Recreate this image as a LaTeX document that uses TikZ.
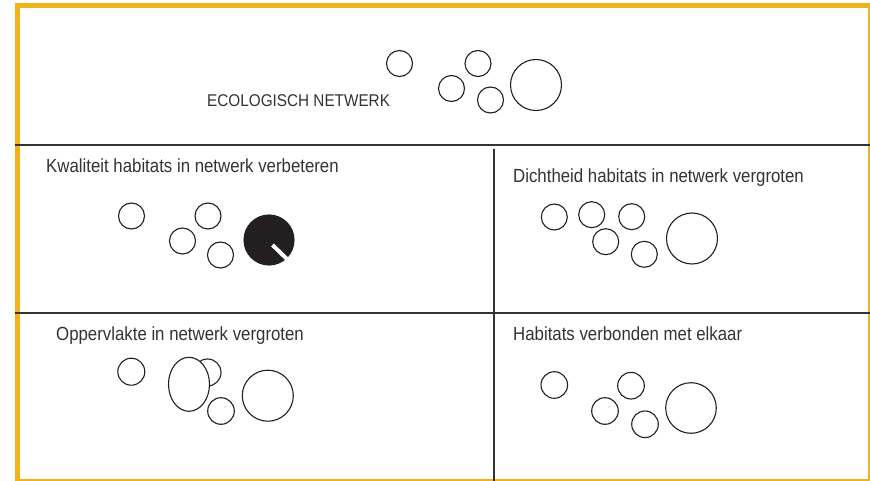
\documentclass[tikz,border=0pt]{standalone}
\usepackage{fontspec}
\setmainfont{Liberation Sans}[FakeStretch=0.885]
\newfontfamily\titelfont{Liberation Sans}[FakeStretch=0.9]
\definecolor{geel}{RGB}{239,180,28}
\definecolor{lijn}{RGB}{51,51,51}
\definecolor{inkt}{RGB}{35,31,32}

\begin{document}
\begin{tikzpicture}[x=1pt,y=-1pt,
  habitat/.style={draw=inkt,line width=1.1pt},
  kop/.style={anchor=base west,inner sep=0pt,text=lijn,font=\fontsize{19}{21}\selectfont}]
\useasboundingbox (0,0) rectangle (870,481);
\clip (0,0) rectangle (870,481);
\fill[white] (0,0) rectangle (870,481);

% kader
\draw[geel,line width=5pt] (17.5,6) rectangle (870,481.5);
\draw[lijn,line width=1.6pt] (15,145) -- (870,145);
\draw[lijn,line width=1.6pt] (15,313) -- (870,313);
\draw[lijn,line width=1.6pt] (494,149) -- (494,481);

% ecologisch netwerk
\node[kop,font=\titelfont\fontsize{17}{19}\selectfont] (titel) at (207,106.5) {ECOLOGISCH NETWERK};
\draw[habitat] (399.5,63.5) circle (13pt);
\draw[habitat] (478,63.5) circle (13pt);
\draw[habitat] (451.5,88.5) circle (13pt);
\draw[habitat] (490.5,100) circle (13pt);
\draw[habitat] (536,85) circle (25.5pt);

% kwaliteit
\node[kop] (kwaliteit) at (46,173) {Kwaliteit habitats in netwerk verbeteren};
\draw[habitat] (131.5,216) circle (13pt);
\draw[habitat] (208,216) circle (13pt);
\draw[habitat] (182.5,241) circle (13pt);
\draw[habitat] (220.5,255) circle (13pt);
\filldraw[habitat,fill=inkt] (269,240) circle (25pt);
\draw[white,line width=4pt] (272.5,245) -- (289,261);

% dichtheid
\node[kop] (dichtheid) at (513,183) {Dichtheid habitats in netwerk vergroten};
\draw[habitat] (554.3,217) circle (13pt);
\draw[habitat] (591.7,214.7) circle (13pt);
\draw[habitat] (631.7,216.7) circle (13pt);
\draw[habitat] (605.7,241.7) circle (13pt);
\draw[habitat] (644.3,254.3) circle (13pt);
\draw[habitat] (692,238.5) circle (25.5pt);

% oppervlakte
\node[kop] (oppervlakte) at (56,340) {Oppervlakte in netwerk vergroten};
\draw[habitat] (131.3,371.7) circle (13.5pt);
\draw[habitat] (207.5,372.5) circle (13.5pt);
\filldraw[habitat,fill=white] (189,384.3) ellipse (20.5pt and 27pt);
\draw[habitat] (221,411) circle (13.3pt);
\draw[habitat] (267.8,395.7) circle (25.5pt);

% verbonden
\node[kop] (verbonden) at (513,340) {Habitats verbonden met elkaar};
\draw[habitat] (554.3,385) circle (13.3pt);
\draw[habitat] (631,385.7) circle (13.3pt);
\draw[habitat] (605,411) circle (13.3pt);
\draw[habitat] (645,424.3) circle (13.3pt);
\draw[habitat] (691,408) circle (25.3pt);
\end{tikzpicture}
\end{document}
